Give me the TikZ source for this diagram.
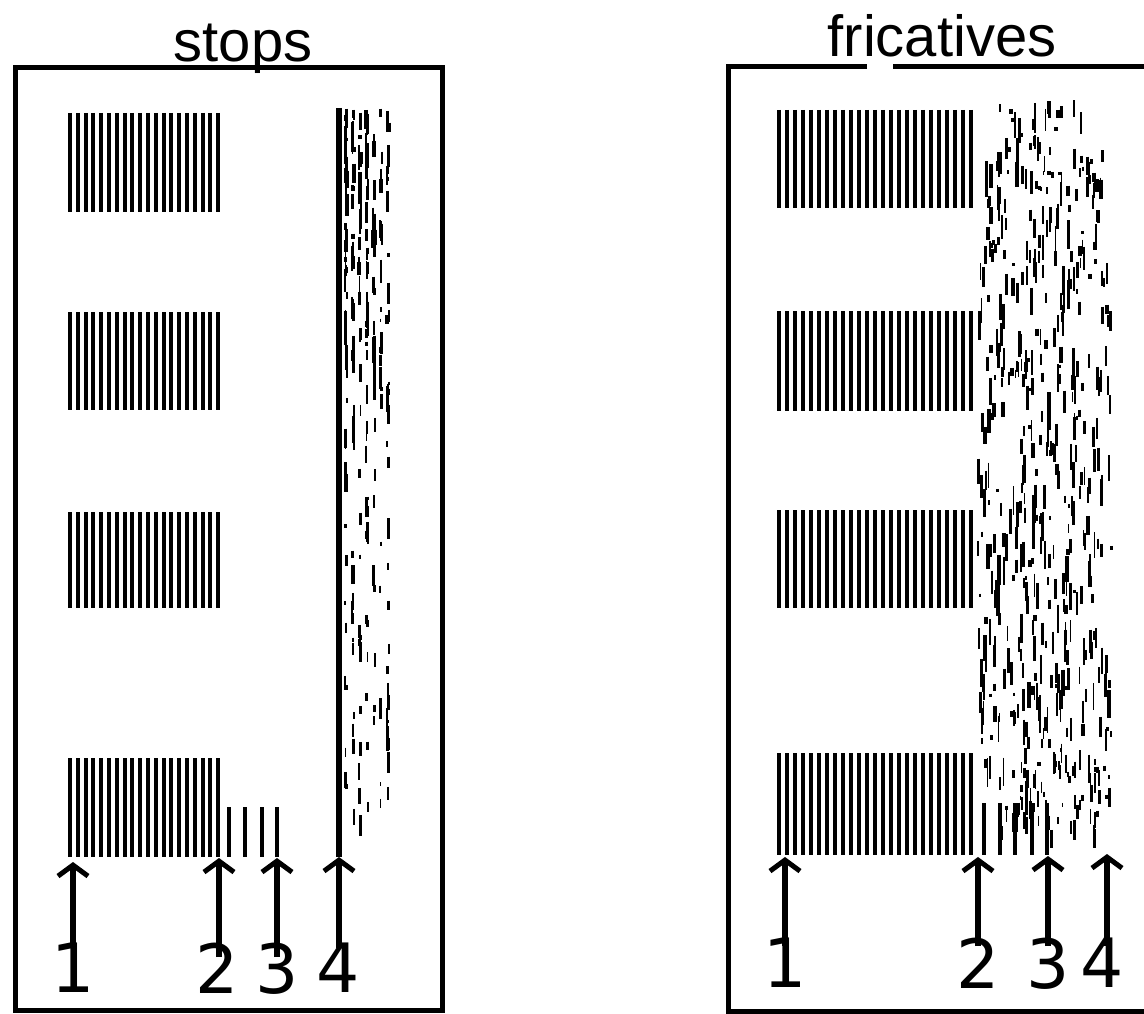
\documentclass[tikz,border=0pt]{standalone}
\usepackage{fontspec}
\setmainfont{Liberation Sans}
\newfontfamily\digitfont{DejaVu Sans}
\usetikzlibrary{arrows.meta}
\begin{document}
\begin{tikzpicture}[x=1pt,y=-1pt,
  frame/.style={line width=5pt},
  voicebar/.style={line width=4pt},
  pointer/.style={line width=6pt,-{Straight Barb[length=11pt,width=30pt,line width=5pt]}},
  num/.style={font=\digitfont\fontsize{68}{68}\selectfont, inner sep=0pt, anchor=north},
  heading/.style={font=\fontsize{58}{58}\selectfont, inner sep=0pt, anchor=base},
  burst/.style={line cap=butt}]
\useasboundingbox (0,0) rectangle (1144,1014);

% ---------- stops panel ----------
\node[heading] (tstops) at (243,62) {stops};
\draw[frame] (15,68) rectangle (442,1010);

% periodic voicing bars
\foreach \ytop/\ybot in {113/212, 312/410, 512/608, 758/857}{
  \foreach \i in {0,...,19}{
    \draw[voicebar] ({70+\i*7.8},\ytop) -- ({70+\i*7.8},\ybot);
  }
}
\foreach \xx in {229,245,262,277}{
  \draw[voicebar] (\xx,807) -- (\xx,857);
}

% burst line and aspiration noise
\coordinate (s4) at (339,857);
\coordinate (s4top) at (339,108);
\draw[line width=6pt] (s4top) -- (s4);
\pgfmathsetseed{11}
\foreach \k in {1,...,170}{
  \pgfmathsetmacro\nx{345+7*int(7*rnd)+2*rnd}
  \pgfmathsetmacro\ny{108+300*rnd}
  \pgfmathsetmacro\nl{3+22*rnd}
  \pgfmathsetmacro\nw{1.4+2.6*rnd}
  \draw[burst,line width=\nw pt] (\nx,\ny) -- ++(0,\nl);
}
\foreach \k in {1,...,90}{
  \pgfmathsetmacro\nx{345+7*int(7*rnd)+2*rnd}
  \pgfmathsetmacro\ny{410+410*rnd}
  \pgfmathsetmacro\nl{3+18*rnd}
  \pgfmathsetmacro\nw{1.4+2.2*rnd}
  \draw[burst,line width=\nw pt] (\nx,\ny) -- ++(0,\nl);
}

% time markers
\node[num] (s1n) at (73,943) {1};
\node[num] (s2n) at (217,943) {2};
\node[num] (s3n) at (277,943) {3};
\node[num] (s4n) at (338,943) {4};
\coordinate (s1) at (73,862);
\coordinate (s2) at (219,858);
\coordinate (s3) at (277,858);
\draw[pointer] ([yshift=-5pt]s1n.north) -- (s1);
\draw[pointer] ([yshift=-14pt]s2n.north -| s2) -- (s2);
\draw[pointer] ([yshift=-14pt]s3n.north -| s3) -- (s3);
\draw[pointer] ([yshift=-5pt]s4n.north -| s4) -- (s4);

% ---------- fricatives panel ----------
\node[heading] (tfric) at (942,57) {fricatives};
\draw[frame] (867,67) -- (728,67) -- (728,1011) -- (1150,1011);
\draw[frame] (893,67) -- (1150,67);

\foreach \ytop/\ybot in {110/208, 311/411, 510/608, 753/855}{
  \foreach \i in {0,...,24}{
    \draw[voicebar] ({779+\i*8},\ytop) -- ({779+\i*8},\ybot);
  }
}
\foreach \xx in {984,1000,1015,1032,1047}{
  \draw[voicebar] (\xx,803) -- (\xx,855);
}

% frication noise
\pgfmathsetseed{23}
\foreach \k in {1,...,120}{
  \pgfmathsetmacro\nx{985+118*rnd}
  \pgfmathsetmacro\ny{100+160*rnd}
  \pgfmathsetmacro\nl{3+24*rnd}
  \pgfmathsetmacro\nw{1.2+2.6*rnd}
  \draw[burst,line width=\nw pt] (\nx,\ny) -- ++(0,\nl);
}
\foreach \k in {1,...,360}{
  \pgfmathsetmacro\nx{978+134*rnd}
  \pgfmathsetmacro\ny{260+500*rnd}
  \pgfmathsetmacro\nl{3+26*rnd}
  \pgfmathsetmacro\nw{1.2+2.6*rnd}
  \draw[burst,line width=\nw pt] (\nx,\ny) -- ++(0,\nl);
}
\foreach \k in {1,...,70}{
  \pgfmathsetmacro\nx{1000+110*rnd}
  \pgfmathsetmacro\ny{760+70*rnd}
  \pgfmathsetmacro\nl{3+18*rnd}
  \pgfmathsetmacro\nw{1.2+2.4*rnd}
  \draw[burst,line width=\nw pt] (\nx,\ny) -- ++(0,\nl);
}

\node[num] (f1n) at (785,938) {1};
\node[num] (f2n) at (978,938) {2};
\node[num] (f3n) at (1048,938) {3};
\node[num] (f4n) at (1102,938) {4};
\coordinate (f1) at (785,857);
\coordinate (f2) at (978,857);
\coordinate (f3) at (1048,856);
\coordinate (f4) at (1107,854);
\draw[pointer] ([yshift=-8pt]f1n.north) -- (f1);
\draw[pointer] ([yshift=-8pt]f2n.north) -- (f2);
\draw[pointer] ([yshift=-8pt]f3n.north) -- (f3);
\draw[pointer] ([yshift=-8pt]f4n.north -| f4) -- (f4);
\end{tikzpicture}
\end{document}
